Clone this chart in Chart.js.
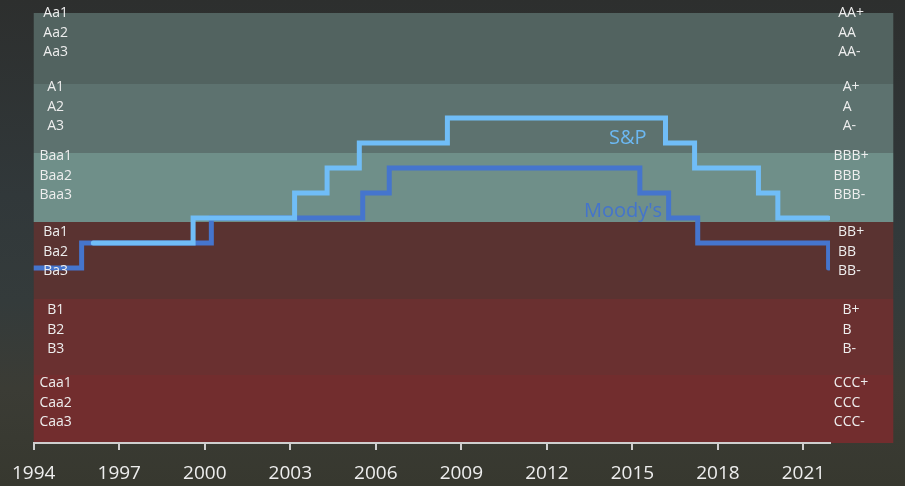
<!DOCTYPE html>
<html>
<head>
<meta charset="utf-8">
<script src="https://cdn.jsdelivr.net/npm/chart.js@4.4.1/dist/chart.umd.min.js"></script>
<style>
  html, body { margin: 0; padding: 0; }
  body {
    width: 905px; height: 486px; overflow: hidden;
    background: linear-gradient(to bottom, #2d2f2e 0%, #31383a 40%, #343b3b 62%, #3b3c35 80%, #37382f 100%);
  }
  canvas { display: block; }
</style>
</head>
<body>
<canvas id="ratingChart" width="905" height="486"></canvas>
<script>
// rating scales (notch 1 = Aa1 / AA+)
const moodysScale = ['Aa1', 'Aa2', 'Aa3', 'A1', 'A2', 'A3', 'Baa1', 'Baa2', 'Baa3',
  'Ba1', 'Ba2', 'Ba3', 'B1', 'B2', 'B3', 'Caa1', 'Caa2', 'Caa3'];
const spScale = ['AA+', 'AA', 'AA-', 'A+', 'A', 'A-', 'BBB+', 'BBB', 'BBB-',
  'BB+', 'BB', 'BB-', 'B+', 'B', 'B-', 'CCC+', 'CCC', 'CCC-'];

// rating band edges on the notch scale
const bandEdges = [0.8, 3.64, 6.4, 9.16, 12.24, 15.28, 18];

// rating changes (year, new rating)
const spYears = [1996.09, 1999.59, 2003.15, 2004.29, 2005.42, 2008.51, 2016.16, 2017.18, 2019.42, 2020.10, 2021.87];
const spRatings = ['BB+', 'BBB-', 'BBB', 'BBB+', 'A-', 'A', 'A-', 'BBB+', 'BBB', 'BBB-', 'BBB-'];
const moodysYears = [1994, 1995.68, 2000.23, 2005.54, 2006.47, 2015.26, 2016.27, 2017.29, 2021.88];
const moodysRatings = ['Ba2', 'Ba1', 'Baa3', 'Baa2', 'Baa1', 'Baa2', 'Baa3', 'Ba1', 'Ba2'];

const xTicks = [1994, 1997, 2000, 2003, 2006, 2009, 2012, 2015, 2018, 2021];

const spPoints = spYears.map((y, i) => ({ x: y, y: spScale.indexOf(spRatings[i]) + 1 }));
const moodysPoints = moodysYears.map((y, i) => ({ x: y, y: moodysScale.indexOf(moodysRatings[i]) + 1 }));

const bandColors = ['#526360', '#5d726f', '#6f8f89', '#5a3331', '#6a3030', '#722d2e'];
const labelMid = [1.6, 4.56, 7.32, 10.35, 13.47, 16.4]; // middle label of each band
const LINE_GAP = 19.5;

const bandsPlugin = {
  id: 'bands',
  beforeDraw(chart) {
    const { ctx, chartArea, scales: { x, y } } = chart;
    const right = x.getPixelForValue(2024.15);
    ctx.save();
    for (let i = 0; i < bandColors.length; i++) {
      const top = y.getPixelForValue(bandEdges[i]);
      const bottom = y.getPixelForValue(bandEdges[i + 1]);
      ctx.fillStyle = bandColors[i];
      ctx.fillRect(chartArea.left, top, right - chartArea.left, bottom - top);
    }
    ctx.restore();
  },
  afterDatasetsDraw(chart) {
    const { ctx, scales: { x, y } } = chart;
    ctx.save();
    ctx.font = '14px "Open Sans"';
    ctx.fillStyle = '#eeeeee';
    ctx.textAlign = 'left';
    ctx.textBaseline = 'middle';
    const leftC = x.getPixelForValue(1994.77);
    const rightC = x.getPixelForValue(2022.67);
    for (let b = 0; b < 6; b++) {
      const mid = y.getPixelForValue(labelMid[b]);
      const ml = moodysScale.slice(b * 3, b * 3 + 3);
      const sl = spScale.slice(b * 3, b * 3 + 3);
      const mw = Math.max(...ml.map(t => ctx.measureText(t).width));
      const sw = Math.max(...sl.map(t => ctx.measureText(t).width));
      for (let k = 0; k < 3; k++) {
        const ty = mid + (k - 1) * LINE_GAP;
        ctx.fillText(ml[k], leftC - mw / 2, ty);
        ctx.fillText(sl[k], rightC - sw / 2, ty);
      }
    }
    // series names
    ctx.font = '20px "Open Sans"';
    ctx.textAlign = 'center';
    ctx.fillStyle = '#6cb8f2';
    ctx.fillText('S&P', x.getPixelForValue(2014.84), y.getPixelForValue(5.83));
    ctx.fillStyle = '#4474cc';
    ctx.fillText("Moody's", x.getPixelForValue(2014.67), y.getPixelForValue(8.72));
    ctx.restore();
  }
};

new Chart(document.getElementById('ratingChart'), {
  type: 'line',
  data: {
    datasets: [
      {
        label: 'S&P',
        data: spPoints,
        borderColor: '#70bdf7',
        borderWidth: 5,
        stepped: 'before',
        pointRadius: 0,
        borderCapStyle: 'round',
        order: 0
      },
      {
        label: "Moody's",
        data: moodysPoints,
        borderColor: '#4575cd',
        borderWidth: 5,
        stepped: 'before',
        pointRadius: 0,
        borderCapStyle: 'round',
        order: 1
      }
    ]
  },
  options: {
    responsive: false,
    devicePixelRatio: 1,
    animation: false,
    layout: { padding: { top: 13, left: 32, right: 75, bottom: 0 } },
    plugins: { legend: { display: false }, tooltip: { enabled: false } },
    scales: {
      x: {
        type: 'linear',
        min: 1994,
        max: 2021.93,
        afterBuildTicks: s => { s.ticks = xTicks.map(v => ({ value: v })); },
        afterFit: s => { s.height = 43; },
        grid: { drawOnChartArea: false, drawTicks: true, tickLength: 7, color: '#cfcfcf', lineWidth: 2 },
        border: { display: true, color: '#cfcfcf', width: 2 },
        ticks: {
          callback: v => String(v),
          color: '#eeeeee',
          font: { family: 'Open Sans', size: 19 },
          padding: 12,
          maxRotation: 0,
          autoSkip: false
        }
      },
      y: {
        display: false,
        reverse: true,
        min: 0.8,
        max: 18
      }
    }
  },
  plugins: [bandsPlugin]
});
</script>
</body>
</html>
